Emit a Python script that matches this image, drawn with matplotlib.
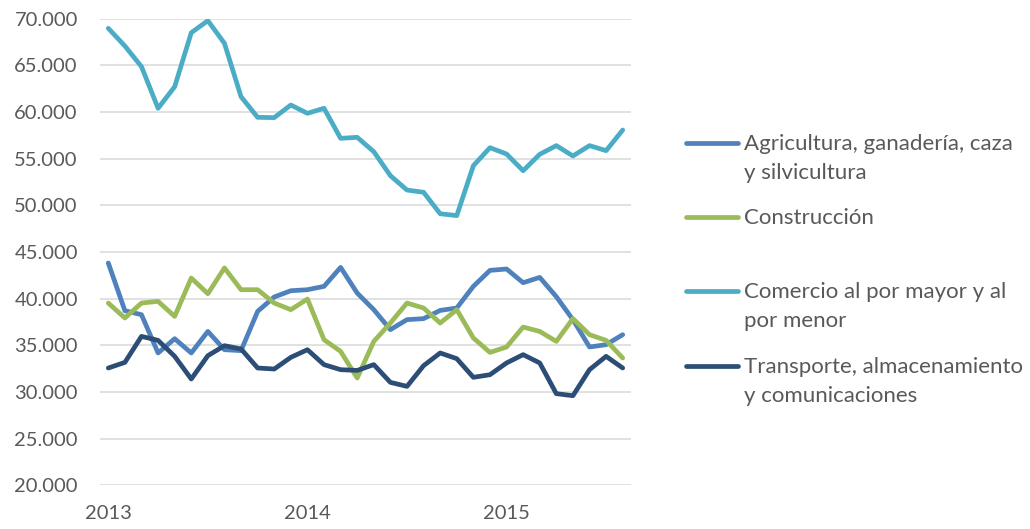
import matplotlib
matplotlib.use('Agg')
import matplotlib.pyplot as plt
from matplotlib.lines import Line2D
from matplotlib.ticker import FuncFormatter

# monthly values, Jan 2013 .. Aug 2015
months = list(range(32))
year_ticks = [0, 12, 24]
year_labels = ['2013', '2014', '2015']

agricultura = [43820, 38710, 38280, 34180, 35710, 34180, 36490, 34530,
               34430, 38640, 40180, 40850, 40960, 41320, 43350, 40600,
               38820, 36680, 37750, 37860, 38740, 39000, 41320, 43030,
               43180, 41710, 42280, 40210, 37750, 34820, 35070, 36140]
construccion = [39530, 37930, 39530, 39710, 38100, 42210, 40530, 43290,
                40960, 40960, 39530, 38820, 39960, 35600, 34350, 31500,
                35420, 37390, 39530, 39000, 37390, 38820, 35790, 34240,
                34820, 36960, 36490, 35420, 37860, 36140, 35530, 33640]
comercio = [68970, 67075, 64860, 60400, 62714, 68500, 69790, 67360,
            61640, 59430, 59400, 60750, 59860, 60400, 57180, 57290,
            55750, 53180, 51640, 51400, 49100, 48900, 54250, 56180,
            55500, 53710, 55470, 56400, 55290, 56400, 55860, 58070]
transporte = [32570, 33170, 35960, 35530, 33820, 31390, 33890, 34960,
              34610, 32570, 32460, 33710, 34530, 32930, 32390, 32310,
              32930, 31030, 30600, 32820, 34180, 33570, 31570, 31850,
              33110, 34000, 33110, 29820, 29600, 32390, 33820, 32570]

series = [
    ('Agricultura, ganadería, caza\ny silvicultura', agricultura, '#4F81BD'),
    ('Construcción', construccion, '#9BBB59'),
    ('Comercio al por mayor y al\npor menor', comercio, '#4BACC6'),
    ('Transporte, almacenamiento\ny comunicaciones', transporte, '#2C4D75'),
]

plt.rcParams['font.family'] = ['Lato', 'DejaVu Sans']
text_color = '#595959'

W, H = 1030, 529
fig = plt.figure(figsize=(W / 100, H / 100), dpi=100)
ax = fig.add_axes([100 / W, 1 - 485.3 / H, 531 / W, (485.3 - 18.7) / H])

for name, values, color in series:
    ax.plot(months, values, color=color, linewidth=3.4,
            solid_joinstyle='round', solid_capstyle='round')

ax.set_xlim(-0.5, 31.5)
ax.set_ylim(20000, 70000)
ax.set_yticks(range(20000, 70001, 5000))
ax.yaxis.set_major_formatter(FuncFormatter(lambda v, p: f'{int(v):,}'.replace(',', '.')))
ax.set_xticks(year_ticks)
ax.set_xticklabels(year_labels)
ax.grid(axis='y', color='#D9D9D9', linewidth=1.1)
ax.set_axisbelow(True)
for s in ax.spines.values():
    s.set_visible(False)
ax.tick_params(length=0, labelsize=14.5, colors=text_color)
ax.tick_params(axis='y', pad=16)
ax.tick_params(axis='x', pad=14)

# legend on the right, drawn by hand to keep Excel-like spacing
legend_y = [143, 217, 291, 366]
for (name, values, color), y in zip(series, legend_y):
    fy = 1 - y / H
    fig.add_artist(Line2D([686 / W, 738 / W], [fy, fy], color=color,
                          linewidth=3.4, solid_capstyle='round'))
    fig.text(744 / W, 1 - (y - 9) / H, name, fontsize=16, color=text_color,
             va='top', ha='left', linespacing=1.57)

fig.savefig('out.png', dpi=100)
